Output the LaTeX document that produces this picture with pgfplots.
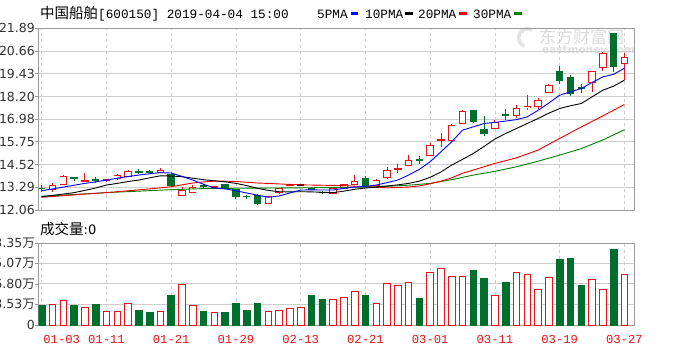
\documentclass[border=0pt]{standalone}
\usepackage{fontspec}
\setmainfont{DejaVu Sans}
\newfontfamily\cjk{Noto Sans CJK SC}
\newfontfamily\mono{Liberation Mono}
\usepackage{pgfplots}
\usepackage{pgfplotstable}
\pgfplotsset{compat=1.18}
\definecolor{kred}{RGB}{230,20,25}
\definecolor{kgreen}{RGB}{0,110,45}
\definecolor{gridc}{RGB}{205,205,205}
\definecolor{framec}{RGB}{155,155,155}
\definecolor{mablue}{RGB}{0,0,255}
\definecolor{mared}{RGB}{235,0,0}
\definecolor{magreen}{RGB}{0,128,0}
% candles: day index, open, high, low, close
\pgfplotstableread{
i o h l c
2 13.18 13.50 13.05 13.40
3 13.46 13.95 13.42 13.86
5 13.62 14.04 13.60 13.66
7 13.66 13.76 13.60 13.70
8 13.74 14.03 13.70 13.95
9 13.86 14.21 13.82 14.13
12 14.10 14.31 14.04 14.20
14 12.87 13.29 12.80 13.10
15 13.02 13.40 12.98 13.26
17 13.28 13.36 13.22 13.31
22 12.40 12.80 12.36 12.78
23 12.98 13.26 12.95 13.23
24 13.38 13.48 13.34 13.42
28 12.96 13.22 12.94 13.20
29 13.24 13.48 13.22 13.44
30 13.46 13.98 13.42 13.60
32 13.38 13.72 13.35 13.68
33 13.80 14.40 13.75 14.22
34 14.24 14.55 14.05 14.28
35 14.49 15.03 14.42 14.76
37 15.03 15.66 15.00 15.57
38 15.82 16.24 15.48 15.86
39 15.84 16.73 15.75 16.65
40 16.74 17.46 16.70 17.37
43 16.47 16.93 16.44 16.82
45 17.19 17.73 17.05 17.55
46 17.58 18.27 17.46 17.64
47 17.68 18.10 17.55 17.98
48 18.42 18.85 18.38 18.81
52 18.96 19.60 18.45 19.53
53 19.75 20.60 19.60 20.52
55 19.98 20.56 19.10 20.31
}\updata
\pgfplotstableread{
i o h l c
1 13.25 13.41 13.05 13.22
4 13.80 13.81 13.62 13.76
6 13.72 13.83 13.52 13.66
10 14.14 14.26 14.00 14.11
11 14.12 14.20 14.00 14.09
13 13.98 14.08 13.38 13.41
16 13.36 13.45 13.22 13.32
18 13.44 13.46 13.24 13.26
19 13.16 13.20 12.66 12.78
20 12.80 12.86 12.68 12.77
21 12.85 12.90 12.35 12.40
26 13.22 13.28 13.12 13.19
27 13.02 13.08 12.93 12.99
31 13.74 13.90 13.34 13.38
36 14.78 14.97 14.56 14.75
41 17.42 17.46 16.78 16.83
42 16.40 17.12 16.06 16.18
44 17.22 17.55 16.92 17.17
49 19.53 19.86 18.90 19.08
50 19.21 19.35 18.22 18.36
51 18.66 18.90 18.40 18.62
54 21.60 21.62 19.53 19.85
}\dndata
\pgfplotstableread{
i o h l c
25 13.41 13.47 13.36 13.42
}\fldata
\pgfplotsset{
  kpanel/.style={scale only axis, width=595.5pt, xmin=0.703, xmax=55.89,
    axis line style={framec, line width=0.8pt},
    xmajorgrids, ymajorgrids,
    x grid style={gridc, dash pattern=on 3pt off 3pt, line width=0.6pt},
    y grid style={gridc, line width=0.8pt},
    tick align=outside, ytick pos=left, xtick pos=bottom,
    major tick length=3.5pt, tick style={framec, line width=0.6pt},
    xtick style={draw=none},
    yticklabel style={font=\fontsize{12.5}{13}\selectfont, text=black!80, inner sep=0pt},
    xtick={1,7,13,19,25,31,37,43,49,55}},
  eb/.style 2 args={draw=none, mark=none, forget plot,
    error bars/.cd, y dir=plus, y explicit, error mark=none,
    error bar style={solid, draw=#1, line width=#2}},
}
\begin{document}
\begin{tikzpicture}
\fill[white] (0pt,0pt) rectangle (700pt,350pt);
% watermark
\node[anchor=west, inner sep=0pt, text=gray!28, font=\cjk\fontsize{17}{17}\selectfont] at (539pt,313pt) {东方财富网};
\node[anchor=west, inner sep=0pt, text=gray!25, font=\bfseries\fontsize{10.5}{11}\selectfont] at (542pt,299pt) {eastmoney.com};
\draw[gray!22, line width=3.5pt] (532pt,320pt) arc[start angle=60, end angle=250, radius=9pt];
% price panel
\begin{axis}[kpanel, at={(38.5pt,140pt)}, anchor=south west, height=181.7pt,
  ymin=12.06, ymax=21.89,
  ytick={12.06,13.29,14.52,15.75,16.98,18.20,19.43,20.66,21.89},
  yticklabels={12.06,13.29,14.52,15.75,16.98,18.20,19.43,20.66,21.89},
  xticklabels={}]
% wicks
\addplot[eb={kred}{0.9pt}] table[x=i, y=l, y error expr={\thisrow{h}-\thisrow{l}}] {\updata};
\addplot[eb={kgreen}{0.9pt}] table[x=i, y=l, y error expr={\thisrow{h}-\thisrow{l}}] {\dndata};
\addplot[eb={black}{0.9pt}] table[x=i, y=l, y error expr={\thisrow{h}-\thisrow{l}}] {\fldata};
% bodies
\addplot[eb={kred}{7.4pt}] table[x=i, y expr={\thisrow{o}-0.027}, y error expr={\thisrow{c}-\thisrow{o}+0.054}] {\updata};
\addplot[eb={white}{5.6pt}] table[x=i, y expr={\thisrow{o}+0.027}, y error expr={max(0,\thisrow{c}-\thisrow{o}-0.054)}] {\updata};
\addplot[eb={kgreen}{7.4pt}] table[x=i, y expr={\thisrow{c}-0.027}, y error expr={\thisrow{o}-\thisrow{c}+0.054}] {\dndata};
\addplot[eb={black}{7.4pt}] table[x=i, y expr={\thisrow{o}-0.027}, y error expr={\thisrow{c}-\thisrow{o}+0.054}] {\fldata};
% 30PMA
\addplot[magreen, line width=0.9pt] coordinates {(1,12.80) (4,12.90) (7,13.00) (10,13.08) (13,13.16) (16,13.22) (20,13.24) (25,13.26) (29,13.28) (31,13.30) (33,13.34) (35,13.40) (37,13.50) (39,13.70) (41,13.95) (43,14.15) (45,14.40) (47,14.70) (49,15.03) (51,15.38) (53,15.85) (55,16.40)};
% 20PMA
\addplot[mared, line width=0.9pt] coordinates {(1,12.75) (3,12.83) (5,12.92) (7,13.00) (9,13.10) (11,13.20) (13,13.32) (14,13.42) (15,13.52) (16,13.58) (17,13.62) (18,13.62) (19,13.60) (21,13.52) (23,13.47) (25,13.42) (27,13.40) (29,13.38) (31,13.32) (33,13.26) (35,13.30) (36,13.36) (37,13.48) (38,13.62) (39,13.80) (40,14.05) (41,14.22) (43,14.58) (45,14.88) (47,15.30) (49,15.93) (51,16.55) (53,17.15) (55,17.77)};
% 10PMA
\addplot[black, line width=0.9pt] coordinates {(1,12.78) (2,12.85) (3,12.92) (4,13.00) (5,13.12) (6,13.25) (7,13.41) (8,13.50) (9,13.60) (10,13.68) (11,13.80) (12,13.91) (13,13.90) (14,13.86) (15,13.78) (16,13.70) (17,13.64) (18,13.58) (19,13.50) (20,13.38) (21,13.23) (22,13.12) (23,13.05) (24,13.04) (25,13.05) (26,13.04) (27,13.02) (28,13.00) (29,13.08) (30,13.18) (31,13.25) (32,13.30) (33,13.36) (34,13.42) (35,13.50) (36,13.62) (37,13.83) (38,14.12) (39,14.49) (40,14.80) (41,15.12) (42,15.50) (43,15.90) (44,16.20) (45,16.47) (46,16.74) (47,17.01) (48,17.30) (49,17.55) (50,17.70) (51,17.82) (52,18.18) (53,18.54) (54,18.76) (55,19.08)};
% 5PMA
\addplot[mablue, line width=0.9pt] coordinates {(1,13.10) (2,13.20) (3,13.30) (4,13.40) (5,13.50) (6,13.58) (7,13.68) (8,13.78) (9,13.87) (10,13.95) (11,14.02) (12,14.08) (13,14.06) (14,13.88) (15,13.68) (16,13.45) (17,13.25) (18,13.20) (19,13.10) (20,12.98) (21,12.86) (22,12.75) (23,12.82) (24,12.98) (25,13.14) (26,13.15) (27,13.14) (28,13.14) (29,13.23) (30,13.30) (31,13.34) (32,13.41) (33,13.54) (34,13.68) (35,13.95) (36,14.26) (37,14.67) (38,15.21) (39,15.75) (40,16.38) (41,16.56) (42,16.74) (43,16.80) (44,16.87) (45,16.95) (46,17.10) (47,17.45) (48,17.85) (49,18.27) (50,18.45) (51,18.63) (52,18.96) (53,19.26) (54,19.40) (55,19.73)};
\end{axis}
% volume panel
\begin{axis}[kpanel, at={(38.5pt,25pt)}, anchor=south west, height=82pt,
  ymin=0, ymax=73.35,
  ytick={0,18.53,36.80,55.07,73.35},
  yticklabels={0,18.53{\cjk 万},36.80{\cjk 万},55.07{\cjk 万},73.35{\cjk 万}},
  xtick={7,13,19,25,31,37,43,49,55},
  xticklabels={01-11,01-21,01-29,02-13,02-21,03-01,03-11,03-19,03-27},
  extra x ticks={1}, extra x tick labels={01-03},
  extra x tick style={grid=major, xticklabel style={xshift=20pt}},
  xticklabel style={font=\mono\fontsize{12.2}{13}\selectfont, text=kred, inner sep=0pt, yshift=-7pt}]
\addplot[ybar, bar width=6.6pt, bar shift=0pt, draw=kred, fill=white, line width=0.8pt] coordinates {(2,18.5) (3,22.4) (5,16.1) (7,12.5) (8,12.5) (9,19.4) (12,12.5) (14,36.4) (15,17.3) (17,11.3) (22,12.5) (23,13.4) (24,14.6) (25,16.1) (28,22.6) (29,25.0) (30,30.4) (32,19.1) (33,37.3) (34,35.2) (35,38.2) (37,47.1) (38,50.7) (39,43.8) (40,43.8) (43,26.8) (45,47.1) (46,45.0) (47,31.6) (48,42.9) (52,40.5) (53,31.6) (55,45.3)};
\addplot[ybar, bar width=6.6pt, bar shift=0pt, draw=kgreen, fill=kgreen, line width=0.8pt] coordinates {(1,17.3) (4,17.3) (6,18.5) (10,13.4) (11,11.3) (13,26.2) (16,12.5) (18,11.3) (19,19.4) (20,13.4) (21,19.4) (26,26.2) (27,22.7) (31,26.8) (36,23.9) (41,48.6) (42,42.0) (44,38.5) (49,59.0) (50,59.9) (51,35.2) (54,68.0)};
\end{axis}
% title and legend
\node[anchor=west, inner sep=0pt] at (40pt,336pt) {{\cjk\fontsize{14.5}{15}\selectfont 中国船舶}{\mono\fontsize{12.7}{13}\selectfont [600150] 2019-04-04 15:00}};
\node[anchor=west, inner sep=0pt, font=\mono\fontsize{12.7}{13}\selectfont] at (317pt,336pt) {5PMA};
\draw[mablue, line width=3pt] (351pt,336pt) -- (358pt,336pt);
\node[anchor=west, inner sep=0pt, font=\mono\fontsize{12.7}{13}\selectfont] at (365pt,336pt) {10PMA};
\draw[black, line width=3pt] (405pt,336pt) -- (413pt,336pt);
\node[anchor=west, inner sep=0pt, font=\mono\fontsize{12.7}{13}\selectfont] at (418pt,336pt) {20PMA};
\draw[mared, line width=3pt] (459pt,336pt) -- (467pt,336pt);
\node[anchor=west, inner sep=0pt, font=\mono\fontsize{12.7}{13}\selectfont] at (473pt,336pt) {30PMA};
\draw[magreen, line width=3pt] (514pt,336pt) -- (522pt,336pt);
\node[anchor=west, inner sep=0pt] at (40pt,121.5pt) {{\cjk\fontsize{14.5}{15}\selectfont 成交量}{\fontsize{13}{14}\selectfont :0}};
\pgfresetboundingbox
\path[use as bounding box] (0pt,0pt) rectangle (700pt,350pt);
\end{tikzpicture}
\end{document}
